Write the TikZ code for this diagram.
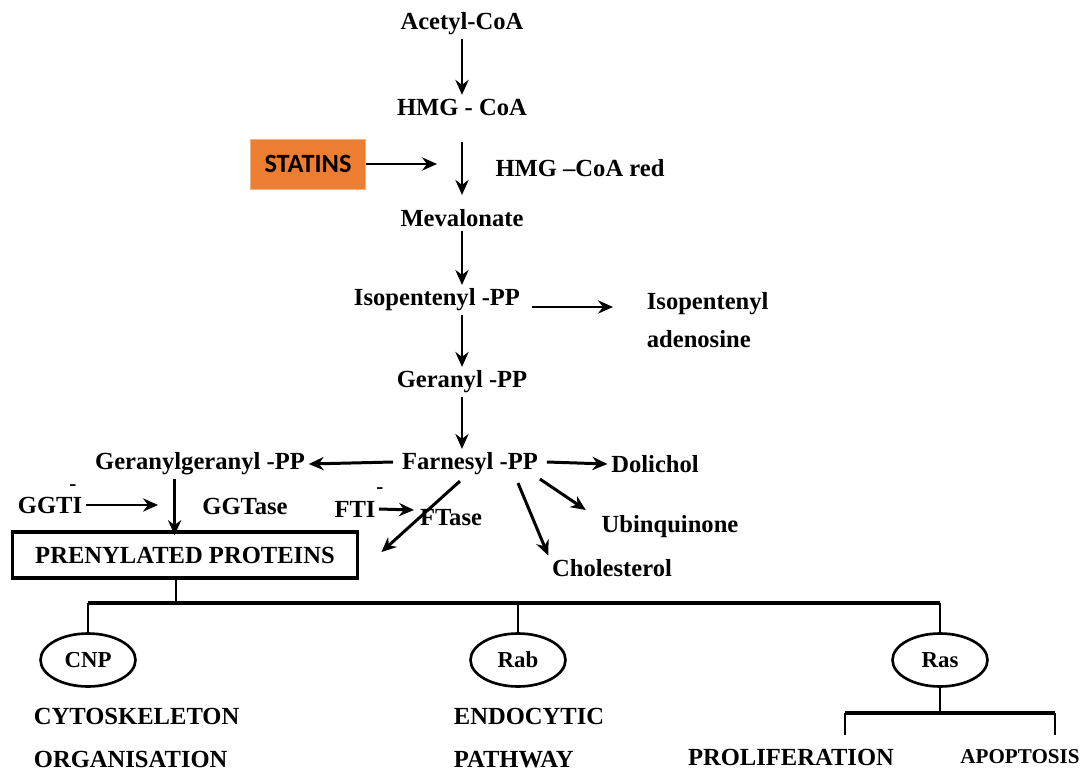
\documentclass[tikz,border=0pt]{standalone}
\usepackage{fontspec}
\setmainfont{Liberation Serif}
\newfontfamily\statfont{Carlito}
\usetikzlibrary{shapes,arrows,arrows.meta,positioning,calc}
\definecolor{statorange}{RGB}{237,125,49}
\tikzset{
    label/.style={font=\fontsize{14}{16}\selectfont\bfseries, inner sep=2pt},
    small/.style={font=\fontsize{12}{14}\selectfont\bfseries, inner sep=2pt},
    inhib/.style={font=\fontsize{12}{12}\selectfont\bfseries, inner sep=0pt},
    drug/.style={rectangle, fill=statorange, draw=statorange!60, minimum width=2.3cm, minimum height=1cm, font=\statfont\fontsize{15}{17}\selectfont\bfseries},
    prot/.style={rectangle, draw, line width=2.2pt, minimum width=6.9cm, minimum height=0.92cm, font=\fontsize{14}{16}\selectfont\bfseries},
    target/.style={ellipse, draw, line width=1.5pt, minimum width=1.9cm, minimum height=1.06cm, inner sep=0pt, font=\fontsize{13}{15}\selectfont\bfseries},
    line/.style={draw, -{Stealth[length=8.5pt,width=7.5pt]}, line width=1.7pt},
    tree/.style={draw, line width=1.5pt},
    bar/.style={draw, line width=2.4pt}
}

\begin{document}
\begin{tikzpicture}[x=0.02cm, y=-0.02cm]
    \useasboundingbox (0,0) rectangle (1083,771);
    % main chain
    \node [label] (acetyl) at (462,24) {Acetyl-CoA};
    \node [label] (hmg) at (462,107) {HMG - CoA};
    \node [label] (mev) at (462,218) {Mevalonate};
    \node [label] (isopp) at (437,300) {Isopentenyl -PP};
    \node [label] (gpp) at (462,382) {Geranyl -PP};
    \node [label] (fpp) at (470,464) {Farnesyl -PP};
    \node [label] (hmgred) at (580,168) {HMG --CoA red};
    \node [drug] (statins) at (308,164) {STATINS};
    \coordinate (block) at (437,164);

    % side products
    \node [label, align=left, anchor=west] (ipa) at (643,320) {Isopentenyl\\[6pt]adenosine};
    \coordinate (ipaend) at (613,307);
    \node [label] (ggpp) at (200,464) {Geranylgeranyl -PP};
    \node [label] (dol) at (655,464) {Dolichol};
    \node [label] (ubi) at (670,527) {Ubinquinone};
    \node [label] (chol) at (612,568) {Cholesterol};

    % prenylation
    \node [prot] (prenyl) at (185,555) {PRENYLATED PROTEINS};
    \node [label] (ggti) at (50,505) {GGTI};
    \node [inhib] (ggtiminus) at (73,488) {-};
    \node [label] (ggtase) at (245,506) {GGTase};
    \node [label, inner sep=0pt] (fti) at (355,509) {FTI};
    \node [inhib] (ftiminus) at (380,491) {-};
    \node [label] (ftase) at (451,518) {FTase};
    \coordinate (ggtiend) at (158,505);
    \coordinate (ftiend) at (414,510);

    \path [line] (acetyl) -- (hmg);
    \path [line, shorten <=13pt, shorten >=6pt] (hmg) -- (mev);
    \path [line] (statins) -- (block);
    \path [line] (mev) -- (mev |- isopp.north);
    \path [line] (isopp.east) ++(8,7) -- (ipaend);
    \path [line] (gpp |- isopp.south) -- (gpp);
    \path [line] (gpp) -- (fpp.north -| gpp);
    \path [line] (fpp.west) ++(-5,-2) -- (ggpp.east);
    \path [line] (fpp.east) ++(5,-2) -- (dol.west);
    \path [line] ($(fpp.south)+(-10,2)$) -- ($(prenyl.north east)+(22,22)$);
    \path [line] ($(fpp.south)+(48,4)$) -- (chol.north west);
    \path [line] ($(fpp.south)+(70,0)$) -- ($(ubi.north west)+(-12,-2)$);
    \path [line] (ggpp.south -| prenyl.north west) ++(164,0) -- ++(0,56);
    \path [line] (ggti) -- (ggtiend);
    \path [line] ($(fti.east)+(3,0)$) -- (ftiend);

    % downstream targets
    \node [target] (cnp) at (88,660) {CNP};
    \node [target] (rab) at (518,660) {Rab};
    \node [target] (ras) at (940,660) {Ras};
    \coordinate (hub) at (176,603);
    \path [tree] (prenyl.south -| hub) -- (hub);
    \path [bar] (cnp |- hub) -- (ras |- hub);
    \path [tree] (cnp |- hub) -- (cnp);
    \path [tree] (rab |- hub) -- (rab);
    \path [tree] (ras |- hub) -- (ras);
    \coordinate (split) at (940,713);
    \path [tree] (ras) -- (split);
    \path [bar] (845,713) -- (1055,713);
    \path [tree] (845,713) -- (845,735);
    \path [tree] (1055,713) -- (1055,735);

    \node [label, align=left, anchor=west] (cyto) at (30,738) {CYTOSKELETON\\[8pt]ORGANISATION};
    \node [label, align=left, anchor=west] (endo) at (450,738) {ENDOCYTIC\\[8pt]PATHWAY};
    \node [label] (prolif) at (791,757) {PROLIFERATION};
    \node [small] (apop) at (1020,757) {APOPTOSIS};
\end{tikzpicture}
\end{document}
